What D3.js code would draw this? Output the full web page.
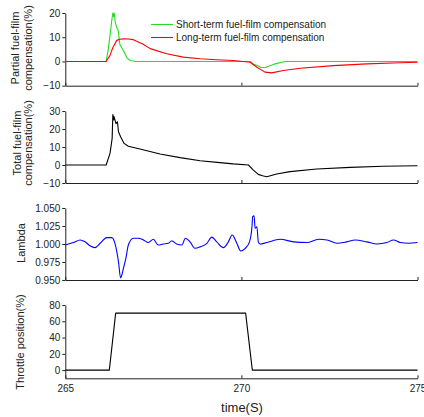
<!DOCTYPE html>
<html>
<head>
<meta charset="utf-8">
<script src="https://cdn.jsdelivr.net/npm/d3@7"></script>
<style>
  body { margin: 0; background: #fff; }
  svg { display: block; font-family: "Liberation Sans", Arial, sans-serif; }
</style>
</head>
<body>
<div id="chart"></div>
<script>
// time ticks (s)
const timeTicks = [265, 270, 275];

// [time, value] samples
const shortTerm = [
  [265, 0], [266.16, 0], [266.22, 5], [266.28, 12], [266.32, 17], [266.35, 20], [266.37, 18.5],
  [266.39, 20], [266.42, 16], [266.46, 14], [266.5, 13], [266.55, 7], [266.65, 4.5], [266.75, 1.5],
  [266.84, 0.4], [267, 0], [270.25, 0], [270.35, -1.2], [270.45, -1.7], [270.55, -2.4],
  [270.67, -2.6], [270.75, -2.1], [270.95, -1.0], [271.25, 0], [275, 0]
];
const longTerm = [
  [265, 0], [266.16, 0], [266.27, 2.5], [266.32, 4.6], [266.36, 6], [266.46, 8.7], [266.55, 9.2],
  [266.65, 9.4], [266.8, 9.3], [266.93, 9], [267.2, 7.2], [267.41, 5.3], [267.88, 3.2],
  [268.35, 1.8], [268.83, 1.1], [269.3, 0.7], [269.77, 0.4], [270.25, -0.3], [270.44, -2.4],
  [270.67, -4.4], [270.86, -4.7], [271.19, -3.75], [271.67, -2.8], [272.61, -1.7],
  [273.56, -1.0], [274.51, -0.5], [275, -0.3]
];
const totalComp = [
  [265, 0], [266.16, 0], [266.27, 6.5], [266.33, 14.8], [266.35, 28], [266.37, 25], [266.38, 27],
  [266.41, 25], [266.44, 23], [266.48, 24], [266.51, 18.5], [266.57, 15.7], [266.67, 12],
  [266.79, 10.4], [267.12, 8.9], [267.69, 6.1], [268.26, 4.1], [268.83, 2.4], [269.39, 1.3],
  [269.77, 0.6], [270.2, 0], [270.34, -2.8], [270.48, -5.2], [270.6, -6.0], [270.72, -6.5],
  [271.0, -5], [271.38, -3.7], [272.14, -2.2], [273.09, -1.3], [274.03, -0.7], [275, -0.4]
];
const lambda = [
  [265, 0.9986], [265.23, 1.002], [265.42, 1.0056], [265.56, 1.003], [265.7, 0.9976],
  [265.84, 0.995], [265.99, 1.001], [266.18, 1.0088], [266.32, 1.0088], [266.41, 1.001],
  [266.51, 0.9754], [266.57, 0.953], [266.6, 0.956], [266.65, 0.966], [266.68, 0.972], [266.72, 0.98],
  [266.79, 0.9986], [266.93, 1.008], [267.07, 1.008], [267.22, 1.0056], [267.36, 1.002],
  [267.5, 1.0065], [267.64, 0.9986], [267.78, 1.0], [267.93, 1.001], [268.02, 1.0046],
  [268.16, 1.0], [268.31, 0.9986], [268.41, 1.008], [268.54, 1.003], [268.68, 0.994],
  [268.83, 0.996], [269.02, 1.001], [269.16, 1.0095], [269.3, 1.003], [269.49, 0.995],
  [269.63, 1.003], [269.74, 1.0125], [269.87, 1.001], [269.98, 0.9903], [270.11, 0.994],
  [270.23, 1.003], [270.3, 1.024], [270.32, 1.038], [270.36, 1.039], [270.39, 1.0218],
  [270.44, 1.024], [270.48, 1.003], [270.53, 1.0], [270.72, 1.002], [271.1, 1.0065],
  [271.48, 1.003], [271.86, 1.002], [272.19, 1.0065], [272.43, 1.0056], [272.71, 1.001],
  [272.99, 1.003], [273.23, 1.0056], [273.56, 1.003], [273.85, 1.0], [274.13, 1.002],
  [274.32, 1.0056], [274.51, 1.002], [274.74, 1.001], [275, 1.002]
];
const throttle = [
  [265, 0], [266.25, 0], [266.43, 70], [270.12, 70], [270.31, 0], [275, 0]
];

// y ticks per panel
const ticksPartial = [-10, 0, 10, 20];
const ticksTotal = [-10, 0, 10, 20, 30];
const ticksLambda = [0.95, 0.975, 1.0, 1.025, 1.05];
const ticksThrottle = [0, 20, 40, 60, 80];

const legendLabels = ["Short-term fuel-film compensation", "Long-term fuel-film compensation"];

const W = 424, H = 417;
const svg = d3.select("#chart").append("svg").attr("width", W).attr("height", H);

const x = d3.scaleLinear().domain([265, 275]).range([65.3, 417.5]);
const axisColor = "#222";

const panels = [
  { domain: [-10, 20], range: [85.7, 13], ticks: ticksPartial, fmt: d3.format("d"),
    title: ["Partial fuel-film", "compensation(%)"], titleX: [19, 32], titleY: 48,
    series: [{ data: shortTerm, color: "#22dd22" }, { data: longTerm, color: "#ff0000" }] },
  { domain: [-10, 30], range: [183, 111], ticks: ticksTotal, fmt: d3.format("d"),
    title: ["Total fuel-film", "compensation(%)"], titleX: [21, 32], titleY: 143,
    series: [{ data: totalComp, color: "#000" }] },
  { domain: [0.95, 1.05], range: [280, 208], ticks: ticksLambda, fmt: d3.format(".3f"),
    title: ["Lambda"], titleX: [25], titleY: 243,
    series: [{ data: lambda, color: "#0000ff", smooth: true }] },
  { domain: [-10, 80], range: [378.3, 305], ticks: ticksThrottle, fmt: d3.format("d"),
    title: ["Throttle position(%)"], titleX: [24], titleY: 342,
    series: [{ data: throttle, color: "#000" }], last: true }
];

panels.forEach((p) => {
  const y = d3.scaleLinear().domain(p.domain).range(p.range);

  // y axis
  const ya = svg.append("g")
    .attr("transform", `translate(${x.range()[0]},0)`)
    .call(d3.axisLeft(y).tickValues(p.ticks).tickFormat(p.fmt).tickSize(3).tickSizeOuter(0).tickPadding(2));
  ya.select(".domain").attr("stroke", axisColor);
  ya.selectAll(".tick line").attr("stroke", axisColor);
  ya.selectAll(".tick text").attr("fill", "#222").style("font-size", "10px");

  // x axis (ticks point up)
  const xa = svg.append("g")
    .attr("transform", `translate(0,${p.range[0]})`)
    .call(d3.axisBottom(x).tickValues(timeTicks).tickSizeInner(-3).tickSizeOuter(0).tickPadding(7)
      .tickFormat(p.last ? d3.format("d") : () => ""));
  xa.select(".domain").attr("stroke", axisColor);
  xa.selectAll(".tick line").attr("stroke", axisColor);
  xa.selectAll(".tick text").attr("fill", "#222").style("font-size", "10px");

  p.series.forEach((s) => {
    const line = d3.line()
      .x((d) => x(d[0]))
      .y((d) => y(d[1]))
      .curve(s.smooth ? d3.curveMonotoneX : d3.curveLinear);
    svg.append("path")
      .datum(s.data)
      .attr("d", line)
      .attr("fill", "none")
      .attr("stroke", s.color)
      .attr("stroke-width", 1.1)
      .attr("stroke-linejoin", "round");
  });

  p.title.forEach((t, i) => {
    svg.append("text")
      .attr("transform", `translate(${p.titleX[i]},${p.titleY}) rotate(-90)`)
      .attr("text-anchor", "middle")
      .style("font-size", "11px")
      .attr("fill", "#222")
      .text(t);
  });
});

// legend
const legendColors = ["#22dd22", "#ff0000"];
legendLabels.forEach((lab, i) => {
  const ly = 24.5 + i * 13;
  svg.append("line")
    .attr("x1", 151).attr("x2", 173).attr("y1", ly).attr("y2", ly)
    .attr("stroke", legendColors[i]).attr("stroke-width", 1.1);
  svg.append("text")
    .attr("x", 176).attr("y", ly + 3.5)
    .style("font-size", "10px")
    .attr("fill", "#222")
    .text(lab);
});

// x axis title
svg.append("text")
  .attr("x", 242).attr("y", 411.5)
  .attr("text-anchor", "middle")
  .style("font-size", "13px")
  .attr("fill", "#222")
  .text("time(S)");
</script>
</body>
</html>
